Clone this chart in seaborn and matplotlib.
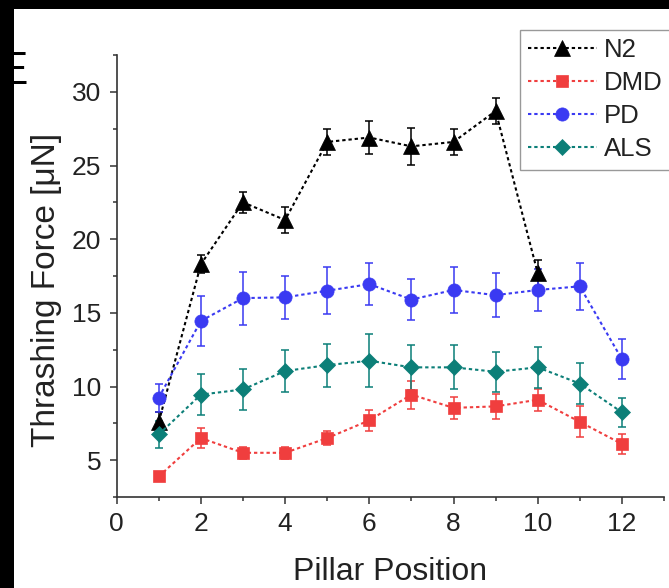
import numpy as np
import pandas as pd
import matplotlib
matplotlib.use("Agg")
import matplotlib.pyplot as plt
import seaborn as sns
from matplotlib.patches import Rectangle
from matplotlib.ticker import MultipleLocator

sns.set_theme(style="ticks")
plt.rcParams['font.family'] = ['Liberation Sans', 'DejaVu Sans']

# ---- data ----
pos_n2 = [1, 2, 3, 4, 5, 6, 7, 8, 9, 10]
pos_all = [1, 2, 3, 4, 5, 6, 7, 8, 9, 10, 11, 12]

n2 = [7.6, 18.3, 22.5, 21.3, 26.6, 26.9, 26.3, 26.6, 28.7, 17.7]
n2_err = [0.7, 0.6, 0.7, 0.9, 0.9, 1.1, 1.25, 0.9, 0.85, 0.9]

dmd = [3.9, 6.5, 5.5, 5.5, 6.5, 7.7, 9.45, 8.55, 8.65, 9.1, 7.6, 6.1]
dmd_err = [0.3, 0.7, 0.4, 0.4, 0.45, 0.7, 0.95, 0.75, 0.85, 0.75, 1.05, 0.7]

pd_ = [9.25, 14.45, 16.0, 16.05, 16.5, 16.95, 15.9, 16.55, 16.2, 16.55, 16.8, 11.85]
pd_err = [0.95, 1.7, 1.8, 1.45, 1.6, 1.4, 1.4, 1.55, 1.5, 1.4, 1.6, 1.35]

als = [6.75, 9.45, 9.8, 11.05, 11.45, 11.75, 11.3, 11.3, 11.0, 11.3, 10.2, 8.25]
als_err = [0.9, 1.4, 1.4, 1.45, 1.45, 1.8, 1.55, 1.5, 1.35, 1.4, 1.4, 1.0]

x_ticks = [0, 2, 4, 6, 8, 10, 12]
y_ticks = [5, 10, 15, 20, 25, 30]

series = [
    ("N2", pos_n2, n2, n2_err, "#000000", "^", 11),
    ("DMD", pos_all, dmd, dmd_err, "#F03E3E", "s", 8.5),
    ("PD", pos_all, pd_, pd_err, "#3A3AF2", "o", 9.5),
    ("ALS", pos_all, als, als_err, "#0C7F78", "D", 8.5),
]

fig = plt.figure(figsize=(6.69, 5.88), dpi=100)
fig.patch.set_facecolor("white")
ax = fig.add_axes([116.7 / 669, 1 - 497 / 588, 547.3 / 669, 442 / 588])
ax.set_facecolor("white")

for name, x, y, e, c, m, ms in series:
    df = pd.DataFrame({"Pillar Position": x, "Force": y})
    ax.errorbar(x, y, yerr=e, fmt="none", ecolor=c, elinewidth=1.3,
                capsize=3.2, capthick=1.3, zorder=1.5, alpha=0.85)
    sns.lineplot(data=df, x="Pillar Position", y="Force", ax=ax, color=c,
                 marker=m, markersize=ms, markeredgecolor=c,
                 markeredgewidth=0.5, linestyle=(0, (1.6, 1.4)),
                 linewidth=1.5, label=name, errorbar=None)

ax.set_xlim(0, 13)
ax.set_ylim(2.5, 32.5)
ax.set_xticks(x_ticks)
ax.set_yticks(y_ticks)
ax.xaxis.set_minor_locator(MultipleLocator(1))
ax.yaxis.set_minor_locator(MultipleLocator(2.5))
ax.tick_params(axis="both", which="major", direction="out", length=5,
               width=1.1, labelsize=19, pad=6, color="#333333",
               labelcolor="#222222")
ax.tick_params(axis="both", which="minor", direction="out", length=3,
               width=1.1, color="#333333")

for s in ["top", "right"]:
    ax.spines[s].set_visible(False)
for s in ["left", "bottom"]:
    ax.spines[s].set_linewidth(1.2)
    ax.spines[s].set_color("#333333")

ax.set_xlabel("Pillar Position", fontsize=23, color="#222222")
ax.set_ylabel("Thrashing Force [μN]", fontsize=24, color="#222222")
ax.xaxis.set_label_coords(0.5, -0.135)
ax.yaxis.set_label_coords(-0.1, 0.468)

leg = ax.legend(loc="upper left", bbox_to_anchor=(520 / 669, 1 - 30 / 588),
                bbox_transform=fig.transFigure, fontsize=18.5, frameon=False,
                handlelength=2.7, handletextpad=0.25,
                borderpad=0.3, labelspacing=0.36, borderaxespad=0,
                numpoints=1)
for t in leg.get_texts():
    t.set_color("#222222")
# legend frame that runs past the right edge as in the reference
ax.add_patch(Rectangle((520 / 669, 1 - 170 / 588), 170 / 669, 140 / 588,
                       transform=fig.transFigure, facecolor="white",
                       edgecolor="#999999", linewidth=1.0, clip_on=False,
                       zorder=4))

# partial panel letter at the left edge, covered by black band
fig.text(-4 / 669, 1 - 84 / 588, "E", fontsize=34, color="black",
         ha="left", va="baseline", zorder=5)
fig.patches.append(Rectangle((0, 0), 14 / 669, 1, transform=fig.transFigure,
                             facecolor="black", edgecolor="none", zorder=10))
fig.patches.append(Rectangle((0, 1 - 9 / 588), 1, 9 / 588,
                             transform=fig.transFigure, facecolor="black",
                             edgecolor="none", zorder=10))

fig.savefig("out.png", dpi=100)
